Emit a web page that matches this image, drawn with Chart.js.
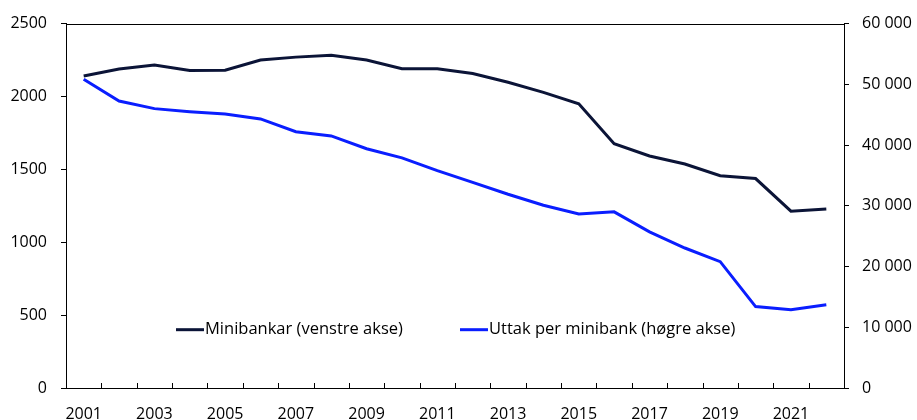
<!DOCTYPE html>
<html>
<head>
<meta charset="utf-8">
<script src="https://cdn.jsdelivr.net/npm/chart.js@4.4.0/dist/chart.umd.min.js"></script>
<style>
html,body{margin:0;padding:0;background:#fff;}
#wrap{width:917px;height:420px;position:relative;}
</style>
</head>
<body>
<div id="wrap"><canvas id="c" width="917" height="420"></canvas></div>
<script>
const years = ['2001','2002','2003','2004','2005','2006','2007','2008','2009','2010','2011','2012','2013','2014','2015','2016','2017','2018','2019','2020','2021','2022'];
const minibankar = [2141,2189,2216,2178,2180,2250,2270,2282,2250,2191,2191,2157,2098,2028,1950,1676,1592,1537,1456,1437,1213,1228];
const uttakPerMinibank = [50850,47250,46000,45500,45100,44300,42200,41500,39400,37900,35800,33850,31900,30100,28650,29000,25700,23050,20800,13400,12900,13700];
const leftTicks = [0,500,1000,1500,2000,2500];
const rightTicks = [0,10000,20000,30000,40000,50000,60000];
const seriesNames = ['Minibankar (venstre akse)','Uttak per minibank (høgre akse)'];
const colors = ['#0b1437','#0a1eff'];

const FONT = "'Open Sans', Lato, sans-serif";
const fmt = v => String(v).replace(/\B(?=(\d{3})+(?!\d))/g, '\u00a0');

const framePlugin = {
  id: 'frame',
  afterDraw(chart) {
    const ctx = chart.ctx, a = chart.chartArea;
    const xs = chart.scales.x;
    ctx.save();
    ctx.strokeStyle = '#000';
    ctx.lineWidth = 1;
    ctx.strokeRect(Math.round(a.left)+0.5, Math.round(a.top)+0.5, Math.round(a.right-a.left), Math.round(a.bottom-a.top));
    // inward x ticks at category boundaries
    const n = years.length;
    const step = (xs.getPixelForValue(1) - xs.getPixelForValue(0));
    ctx.beginPath();
    for (let i = 1; i < n; i++) {
      const px = Math.round(xs.getPixelForValue(i) - step/2) + 0.5;
      ctx.moveTo(px, a.bottom);
      ctx.lineTo(px, a.bottom - 5);
    }
    ctx.stroke();
    // legend inside plot
    const yL = chart.scales.y.getPixelForValue(400);
    const starts = [0.1414, 0.5064];
    ctx.font = '16.5px ' + FONT;
    ctx.textBaseline = 'middle';
    ctx.fillStyle = '#000';
    chart.data.datasets.forEach((ds, i) => {
      const x0 = a.left + starts[i] * (a.right - a.left);
      ctx.beginPath();
      ctx.strokeStyle = ds.borderColor;
      ctx.lineWidth = 3;
      ctx.moveTo(x0, yL);
      ctx.lineTo(x0 + 28, yL);
      ctx.stroke();
      ctx.fillText(ds.label, x0 + 29, yL);
    });
    ctx.restore();
  }
};

new Chart(document.getElementById('c'), {
  type: 'line',
  data: {
    labels: years,
    datasets: [
      { label: seriesNames[0], data: minibankar, yAxisID: 'y', borderColor: colors[0], backgroundColor: colors[0], borderWidth: 3, pointRadius: 0, tension: 0 },
      { label: seriesNames[1], data: uttakPerMinibank, yAxisID: 'y1', borderColor: colors[1], backgroundColor: colors[1], borderWidth: 3, pointRadius: 0, tension: 0 }
    ]
  },
  options: {
    responsive: false,
    animation: false,
    devicePixelRatio: 1,
    layout: { padding: { top: 17, right: 0, left: 0, bottom: 0 } },
    plugins: { legend: { display: false }, tooltip: { enabled: false } },
    scales: {
      x: {
        offset: true,
        grid: { display: false, offset: true },
        border: { display: true, color: '#000' },
        ticks: {
          autoSkip: false, maxRotation: 0, padding: 9, color: '#000',
          font: { family: FONT, size: 16 },
          callback: (v, i) => (i % 2 === 0 ? years[i] : '')
        },
        afterFit(s) { s.height = 32; }
      },
      y: {
        position: 'left', min: 0, max: 2500,
        afterBuildTicks(s) { s.ticks = leftTicks.map(v => ({ value: v })); },
        grid: { drawOnChartArea: false, drawTicks: true, tickLength: 5, color: '#000' },
        border: { display: true, color: '#000' },
        ticks: { padding: 14, color: '#000', font: { family: FONT, size: 16 }, callback: v => String(v) },
        afterFit(s) { s.width = 66; }
      },
      y1: {
        position: 'right', min: 0, max: 60000,
        afterBuildTicks(s) { s.ticks = rightTicks.map(v => ({ value: v })); },
        grid: { drawOnChartArea: false, drawTicks: true, tickLength: 5, color: '#000' },
        border: { display: true, color: '#000' },
        ticks: { padding: 13, color: '#000', font: { family: FONT, size: 16 }, callback: v => fmt(v) },
        afterFit(s) { s.width = 73; }
      }
    }
  },
  plugins: [framePlugin]
});
</script>
</body>
</html>
